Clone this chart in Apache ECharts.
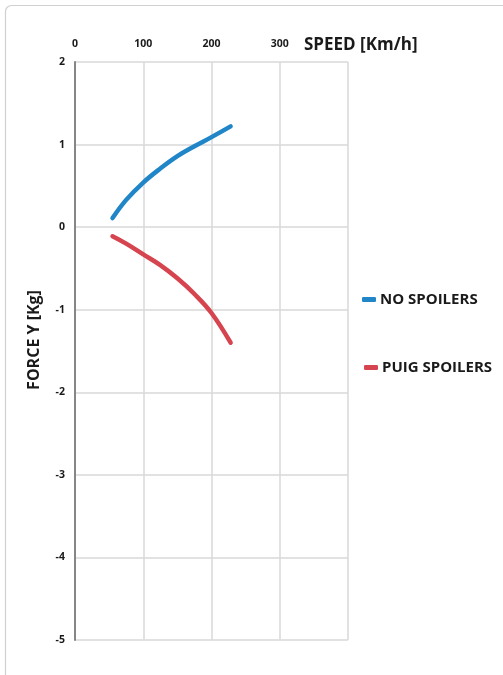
<!DOCTYPE html>
<html><head><meta charset="utf-8">
<script src="https://cdn.jsdelivr.net/npm/echarts@6/dist/echarts.min.js"></script>
<style>html,body{margin:0;padding:0;background:#fff}#c{width:503px;height:675px}</style>
</head><body><div id="c"></div>
<script>
const seriesNames = ['NO SPOILERS', 'PUIG SPOILERS'];
const speed = [55, 75, 100, 125, 150, 175, 200, 228];
const noSpoilers = [0.11, 0.33, 0.54, 0.71, 0.86, 0.98, 1.09, 1.22];
const puigSpoilers = [-0.11, -0.20, -0.33, -0.46, -0.62, -0.81, -1.04, -1.40];
const xTicks = [0, 100, 200, 300];
const colors = ['#2186c8', '#d6444f'];
const FONT = '"Open Sans", Lato, sans-serif';

const chart = echarts.init(document.getElementById('c'));
const pair = (xs, ys) => xs.map((x, i) => [x, ys[i]]);
const legendBase = {
  orient: 'vertical', icon: 'roundRect', itemWidth: 14, itemHeight: 5, padding: 0,
  textStyle: { fontFamily: FONT, fontWeight: 'bold', fontSize: 15, color: '#1a1a1a', padding: [0, 0, 0, -1] }
};
chart.setOption({
  animation: false,
  textStyle: { fontFamily: FONT },
  graphic: [
    { type: 'rect', shape: { x: 5.5, y: 5.5, width: 520, height: 700, r: 6 },
      style: { fill: 'none', stroke: '#d0d0d0', lineWidth: 1.2 }, z: -1 },
    { type: 'text', x: 304, y: 45,
      style: { text: 'SPEED [Km/h]', font: 'bold 17px ' + FONT, fill: '#1a1a1a', align: 'left', verticalAlign: 'middle' } },
    { type: 'text', x: 34, y: 340, rotation: Math.PI / 2,
      style: { text: 'FORCE Y [Kg]', font: 'bold 16px ' + FONT, fill: '#1a1a1a', align: 'center', verticalAlign: 'middle' } }
  ],
  grid: { left: 75, right: 155, top: 62, bottom: 35 },
  legend: [
    Object.assign({}, legendBase, { data: [seriesNames[0]], left: 362, top: 292 }),
    Object.assign({}, legendBase, { data: [seriesNames[1]], left: 364, top: 360 })
  ],
  xAxis: {
    type: 'value', position: 'top', min: 0, max: 400, interval: 100,
    axisLine: { show: false }, axisTick: { show: false },
    axisLabel: { fontWeight: 'bold', fontSize: 10.5, color: '#1a1a1a', margin: 12,
      formatter: v => xTicks.includes(v) ? String(v) : '' },
    splitLine: { lineStyle: { color: '#d9d9d9', width: 1.5 } }
  },
  yAxis: {
    type: 'value', min: -5, max: 2, interval: 1,
    axisLine: { show: true, onZero: false, lineStyle: { color: '#868686', width: 2 } },
    axisTick: { show: false },
    axisLabel: { fontWeight: 'bold', fontSize: 10.5, color: '#1a1a1a', margin: 10 },
    splitLine: { lineStyle: { color: '#d9d9d9', width: 1.5 } }
  },
  series: [
    { name: seriesNames[0], type: 'line', smooth: 0.4, showSymbol: false,
      data: pair(speed, noSpoilers), color: colors[0], lineStyle: { width: 4.5, cap: 'round' } },
    { name: seriesNames[1], type: 'line', smooth: 0.4, showSymbol: false,
      data: pair(speed, puigSpoilers), color: colors[1], lineStyle: { width: 4.5, cap: 'round' } }
  ]
});
</script></body></html>
